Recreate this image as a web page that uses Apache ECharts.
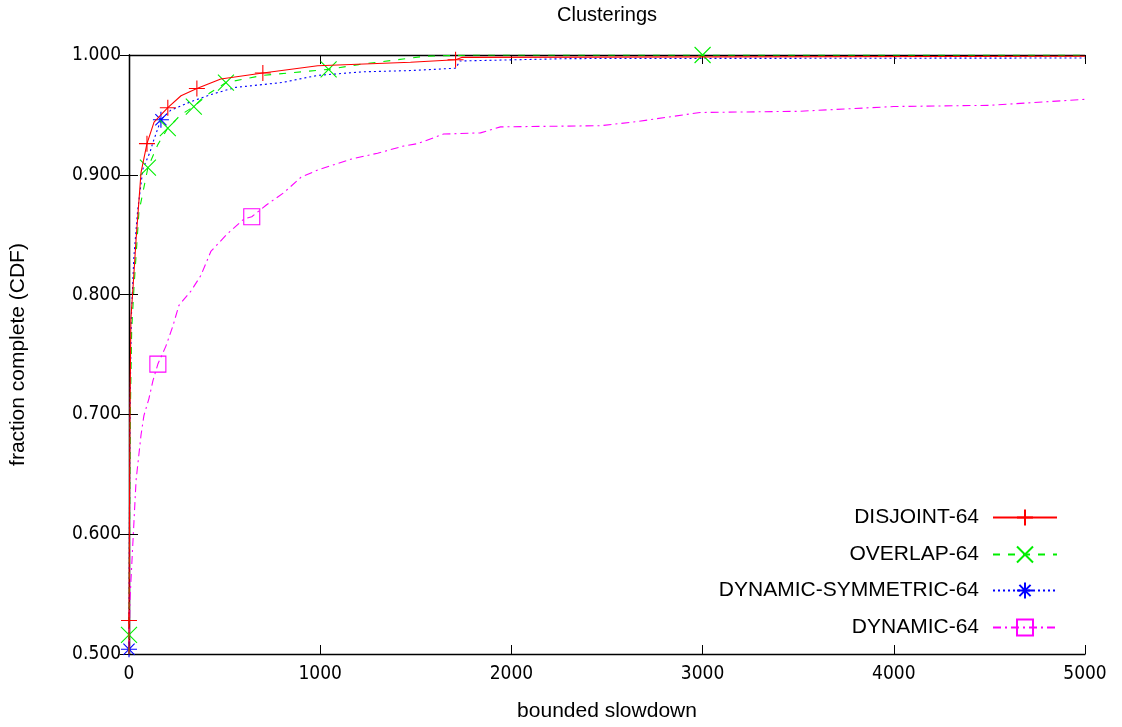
<!DOCTYPE html>
<html><head><meta charset="utf-8">
<script src="https://cdn.jsdelivr.net/npm/echarts@6/dist/echarts.min.js"></script>
<style>html,body{margin:0;padding:0;background:#fff}#c{width:1122px;height:727px}</style>
</head><body><div id="c"></div>
<script>
// ---- data ----
const seriesNames = ['DISJOINT-64', 'OVERLAP-64', 'DYNAMIC-SYMMETRIC-64', 'DYNAMIC-64'];
const xTicks = [0, 1000, 2000, 3000, 4000, 5000];
const yTicks = [0.5, 0.6, 0.7, 0.8, 0.9, 1.0];

const disjointX = [0, 0, 2, 5, 10, 21, 37, 63, 94, 131, 203, 272, 355, 480, 700, 987, 1472, 1708, 1740, 5000];
const disjointY = [0.500, 0.528, 0.60, 0.70, 0.78, 0.806, 0.846, 0.902, 0.926, 0.944, 0.956, 0.966, 0.972, 0.980, 0.985, 0.991, 0.994, 0.996, 0.998, 0.999];
const disjointMarks = [1, 8, 10, 12, 14, 17];

const overlapX = [0, 0, 3, 7, 14, 26, 52, 99, 150, 203, 270, 339, 420, 507, 700, 1044, 1200, 1400, 1550, 1800, 3000, 5000];
const overlapY = [0.500, 0.516, 0.60, 0.70, 0.77, 0.806, 0.869, 0.906, 0.925, 0.939, 0.950, 0.957, 0.968, 0.977, 0.983, 0.988, 0.992, 0.996, 0.999, 1.000, 1.000, 1.000];
const overlapMarks = [1, 7, 9, 11, 13, 15, 20];

const dynSymX = [0, 0, 2, 5, 12, 25, 45, 73, 110, 125, 167, 219, 324, 428, 559, 800, 987, 1227, 1472, 1710, 1730, 2300, 5000];
const dynSymY = [0.500, 0.504, 0.60, 0.70, 0.78, 0.83, 0.87, 0.905, 0.919, 0.927, 0.946, 0.954, 0.961, 0.967, 0.973, 0.977, 0.983, 0.986, 0.987, 0.989, 0.995, 0.997, 0.9975];
const dynSymMarks = [1, 10];

const dynamicX = [0, 5, 21, 37, 63, 78, 104, 125, 151, 193, 230, 261, 324, 376, 428, 510, 600, 642, 720, 809, 900, 987, 1159, 1300, 1436, 1509, 1645, 1838, 1943, 2465, 2637, 2987, 3500, 4000, 4500, 5000];
const dynamicY = [0.500, 0.545, 0.595, 0.645, 0.683, 0.699, 0.713, 0.728, 0.742, 0.757, 0.774, 0.791, 0.803, 0.816, 0.836, 0.850, 0.863, 0.865, 0.875, 0.885, 0.898, 0.904, 0.913, 0.918, 0.924, 0.926, 0.934, 0.935, 0.940, 0.941, 0.944, 0.952, 0.953, 0.957, 0.958, 0.963];
const dynamicMarks = [8, 17];

// ---- styling ----
const colors = ['#ff0000', '#00ee00', '#0000ff', '#ff00ff'];
const symbols = [
  'path://M0,5L10,5M5,0L5,10',
  'path://M0,0L10,10M10,0L0,10',
  'path://M0,5L10,5M5,0L5,10M1.5,1.5L8.5,8.5M8.5,1.5L1.5,8.5',
  'path://M0,0L10,0L10,10L0,10Z'
];
const dashes = ['solid', [7, 8], [2, 3], [8, 4, 2, 4]];
const xs = [disjointX, overlapX, dynSymX, dynamicX];
const ys = [disjointY, overlapY, dynSymY, dynamicY];
const marks = [disjointMarks, overlapMarks, dynSymMarks, dynamicMarks];

function buildData(x, y, m) {
  return x.map((v, i) => m.includes(i) ? { value: [v, y[i]] } : { value: [v, y[i]], symbol: 'none' });
}

const series = seriesNames.map((n, k) => ({
  name: n, type: 'line', data: buildData(xs[k], ys[k], marks[k]),
  xAxisIndex: 0, yAxisIndex: 0,
  symbol: symbols[k], symbolSize: 16, showAllSymbol: true,
  color: colors[k],
  lineStyle: { color: colors[k], width: 1.1, type: dashes[k] },
  itemStyle: { color: 'rgba(0,0,0,0)', borderColor: colors[k], borderWidth: 1.1 },
  emphasis: { disabled: true }, animation: false, z: 10 - k
}));

const legendTops = [507, 544, 580, 617];
const legends = seriesNames.map((n, k) => ({
  data: [n], orient: 'vertical', right: 64, top: legendTops[k], padding: 0,
  align: 'right', itemWidth: 64, itemHeight: 20, selectedMode: false,
  textStyle: { fontFamily: 'Liberation Sans', fontSize: 21, color: '#000', padding: [0, 9, 0, 0] }
}));

const tickFont = { fontFamily: '"DejaVu Sans Condensed", "DejaVu Sans"', fontSize: 19, color: '#000' };
const axisBase = {
  type: 'value', axisLine: { show: true, lineStyle: { color: '#000', width: 1.3 } },
  axisTick: { show: true, inside: true, length: 9, lineStyle: { color: '#000' } },
  splitLine: { show: false }
};
const nameFont = { fontFamily: 'Liberation Sans', fontSize: 21, color: '#000' };

const chart = echarts.init(document.getElementById('c'), null, { renderer: 'canvas' });
chart.setOption({
  animation: false,
  backgroundColor: '#fff',
  title: { text: 'Clusterings', left: 557, top: 5, padding: 0,
    textStyle: { fontFamily: 'Liberation Sans', fontSize: 20, fontWeight: 'normal', color: '#000' } },
  legend: legends,
  grid: { left: 128, right: 37, top: 55, bottom: 70, containLabel: false },
  xAxis: [
    Object.assign({}, axisBase, { min: xTicks[0], max: xTicks[xTicks.length - 1], interval: 1000, position: 'bottom',
      name: 'bounded slowdown', nameLocation: 'middle', nameGap: 47, nameTextStyle: nameFont,
      axisLabel: Object.assign({ margin: 11, formatter: v => String(v) }, tickFont) }),
    Object.assign({}, axisBase, { min: xTicks[0], max: xTicks[xTicks.length - 1], interval: 1000, position: 'top',
      axisLabel: { show: false } })
  ],
  yAxis: [
    Object.assign({}, axisBase, { min: yTicks[0], max: yTicks[yTicks.length - 1], interval: 0.1, position: 'left',
      name: 'fraction complete (CDF)', nameLocation: 'middle', nameGap: 100, nameTextStyle: nameFont,
      axisLabel: Object.assign({ margin: 8, formatter: v => v.toFixed(3) }, tickFont) }),
    Object.assign({}, axisBase, { min: yTicks[0], max: yTicks[yTicks.length - 1], interval: 0.1, position: 'right',
      axisLabel: { show: false } })
  ],
  series: series
});
</script></body></html>
